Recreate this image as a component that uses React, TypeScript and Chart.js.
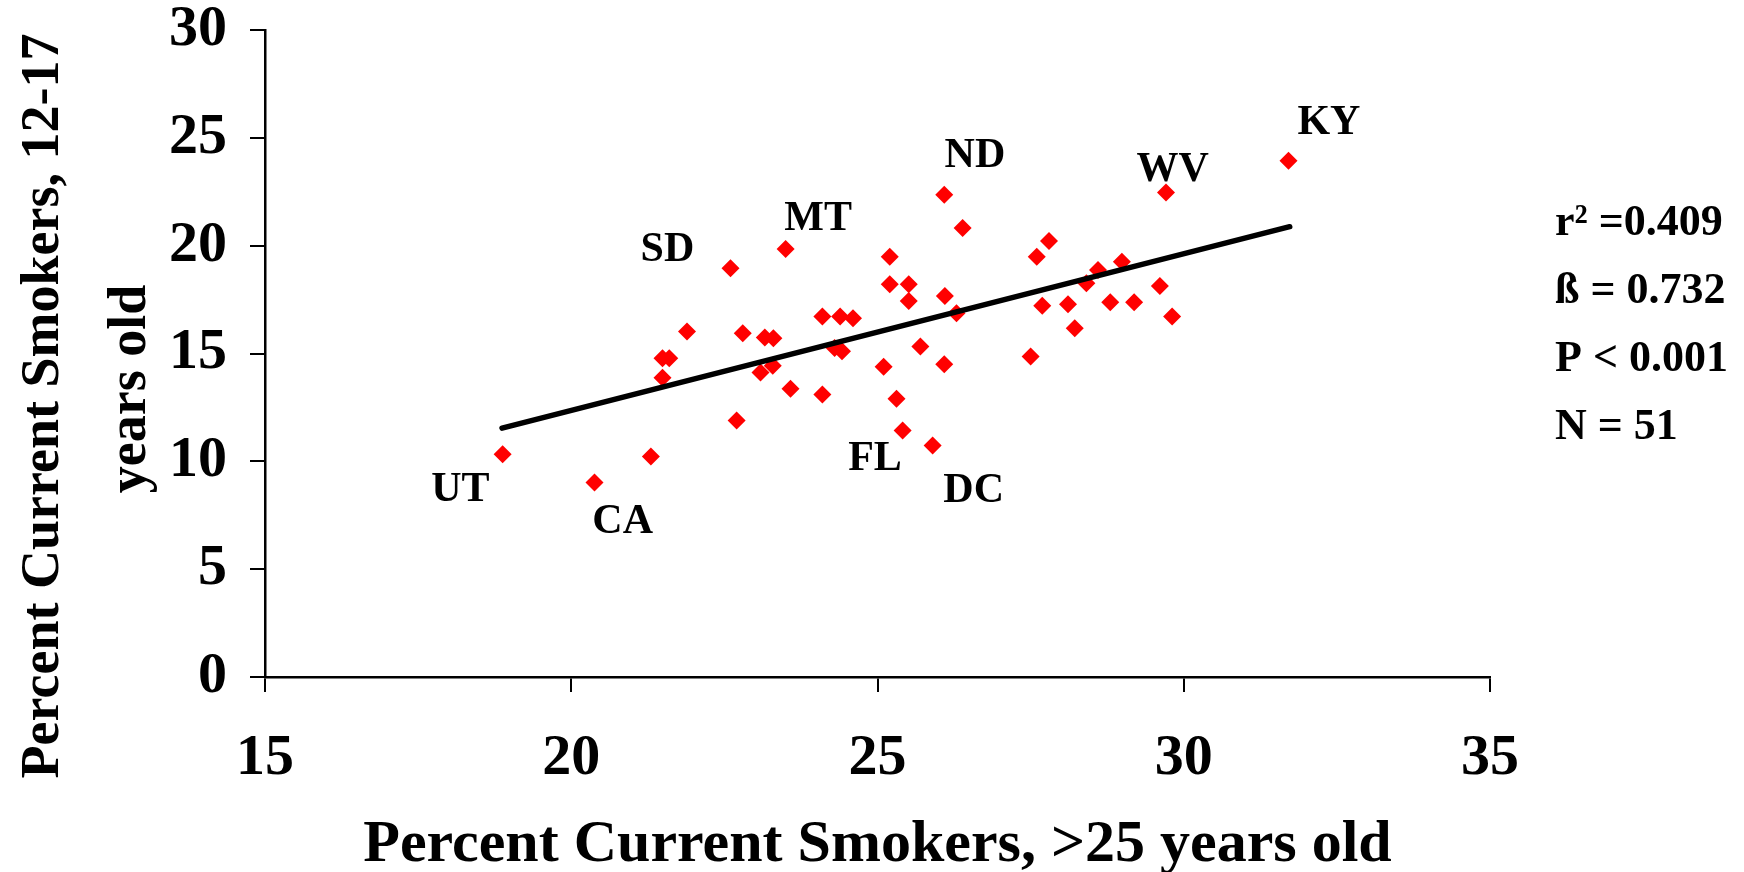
import React, { useEffect, useRef } from "react";
import { Chart, registerables } from "chart.js";

Chart.register(...registerables);

// Percent current smokers, >25 years old (x) and 12-17 years old (y), one point per state
const adultPct = [
  18.88, 20.38, 21.30, 21.49, 21.60, 21.49, 21.89, 22.60, 22.80, 22.70,
  23.16, 23.30, 23.09, 23.29, 23.50, 23.58, 24.10, 24.10, 24.39, 24.60,
  24.30, 24.42, 25.20, 25.20, 25.51, 25.51, 25.10, 25.31, 25.41, 25.70,
  25.90, 26.09, 26.39, 26.10, 26.29, 26.09, 27.50, 27.60, 27.80, 27.69,
  28.11, 28.22, 28.41, 28.60, 28.80, 28.99, 29.19, 29.61, 29.81, 29.71,
  31.71,
];
const youthPct = [
  10.33, 9.02, 10.22, 14.78, 14.78, 13.88, 16.02, 18.95, 15.94, 11.89,
  15.74, 15.71, 14.12, 14.43, 19.85, 13.37, 13.10, 16.71, 16.71, 16.63,
  15.25, 15.10, 19.49, 18.21, 18.21, 17.44, 14.39, 12.90, 11.43, 15.32,
  10.73, 22.36, 20.82, 17.67, 16.87, 14.50, 14.86, 19.49, 20.22, 17.21,
  17.28, 16.17, 18.26, 18.87, 17.38, 19.26, 17.38, 18.13, 16.71, 22.46,
  23.94,
];

// Regression line end points
const trendX = [18.87, 31.73];
const trendY = [11.54, 20.88];

// State labels (placed in data units)
const stateLabels = ["UT", "CA", "SD", "MT", "FL", "DC", "ND", "WV", "KY"];
const stateLabelX = [18.19, 20.84, 21.57, 24.03, 24.96, 26.57, 26.59, 29.82, 32.37];
const stateLabelY = [8.66, 7.16, 19.8, 21.24, 10.12, 8.6, 24.17, 23.48, 25.66];

const statsLines = ["r\u00B2 =0.409", "\u00DF = 0.732", "P < 0.001", "N = 51"];

const xTickValues = [15, 20, 25, 30, 35];
const yTickValues = [0, 5, 10, 15, 20, 25, 30];

const xTitle = "Percent Current Smokers, >25 years old";
const yTitleLines = ["Percent Current Smokers, 12-17", "years old"];

const FONT = '"Liberation Serif", "Times New Roman", serif';

const annotatePlugin = {
  id: "annotate",
  afterDatasetsDraw(chart: any) {
    const { ctx, chartArea, scales } = chart;
    const xs = scales.x;
    const ys = scales.y;
    ctx.save();
    ctx.fillStyle = "#000";
    ctx.textBaseline = "middle";

    // state labels
    ctx.font = `bold 42px ${FONT}`;
    ctx.textAlign = "center";
    stateLabels.forEach((t, i) => {
      ctx.fillText(t, xs.getPixelForValue(stateLabelX[i]), ys.getPixelForValue(stateLabelY[i]));
    });

    // statistics block
    ctx.font = `bold 44px ${FONT}`;
    ctx.textAlign = "left";
    statsLines.forEach((t, i) => {
      ctx.fillText(t, chartArea.right + 65, chartArea.top + 194 + i * 68);
    });

    // y axis title (two rotated lines)
    ctx.font = `bold 54px ${FONT}`;
    ctx.textAlign = "center";
    const yCenters = [chartArea.top + 376, chartArea.top + 359];
    const xCenters = [44, 131];
    yTitleLines.forEach((t, i) => {
      ctx.save();
      ctx.translate(xCenters[i], yCenters[i]);
      ctx.rotate(-Math.PI / 2);
      ctx.fillText(t, 0, 0);
      ctx.restore();
    });
    ctx.restore();
  },
};

export default function App() {
  const canvasRef = useRef<HTMLCanvasElement | null>(null);

  useEffect(() => {
    if (!canvasRef.current) return;
    const points = adultPct.map((x, i) => ({ x, y: youthPct[i] }));
    const trend = trendX.map((x, i) => ({ x, y: trendY[i] }));

    const chart = new Chart(canvasRef.current, {
      type: "scatter",
      data: {
        datasets: [
          {
            label: "Trend",
            data: trend,
            showLine: true,
            borderColor: "#000",
            borderWidth: 5.5,
            borderCapStyle: "round",
            pointRadius: 0,
            fill: false,
          },
          {
            label: "States",
            data: points,
            pointStyle: "rectRot",
            pointRadius: 9,
            backgroundColor: "#ff0000",
            borderWidth: 0,
          },
        ],
      },
      options: {
        animation: false,
        responsive: true,
        maintainAspectRatio: false,
        events: [],
        layout: { padding: { top: 0, right: 254, left: 0, bottom: 0 } },
        plugins: {
          legend: { display: false },
          tooltip: { enabled: false },
        },
        scales: {
          x: {
            type: "linear",
            min: 15,
            max: 35,
            afterFit(scale: any) {
              scale.height = 195;
            },
            afterBuildTicks(scale: any) {
              scale.ticks = xTickValues.map((v) => ({ value: v }));
            },
            border: { display: true, color: "#000", width: 2.5 },
            grid: {
              display: true,
              drawOnChartArea: false,
              drawTicks: true,
              tickLength: 15,
              color: "#000",
              lineWidth: 2,
            },
            ticks: {
              color: "#000",
              padding: 37,
              font: { family: FONT, size: 58, weight: "bold", lineHeight: 1.03 },
            },
            title: {
              display: true,
              text: xTitle,
              color: "#000",
              padding: 0,
              font: { family: FONT, size: 60, weight: "bold", lineHeight: 0.9 },
            },
          },
          y: {
            type: "linear",
            min: 0,
            max: 30,
            afterFit(scale: any) {
              scale.width = 265;
              scale.paddingTop = 30;
              scale.paddingBottom = 0;
            },
            afterBuildTicks(scale: any) {
              scale.ticks = yTickValues.map((v) => ({ value: v }));
            },
            border: { display: true, color: "#000", width: 2.5 },
            grid: {
              display: true,
              drawOnChartArea: false,
              drawTicks: true,
              tickLength: 15,
              color: "#000",
              lineWidth: 2,
            },
            ticks: {
              color: "#000",
              padding: 23,
              font: { family: FONT, size: 58, weight: "bold", lineHeight: 1.03 },
            },
          },
        },
      },
      plugins: [annotatePlugin],
    });
    return () => chart.destroy();
  }, []);

  return (
    <div style={{ position: "absolute", left: 0, top: 0, width: 1744, height: 872, background: "#fff" }}>
      <canvas ref={canvasRef} />
    </div>
  );
}
